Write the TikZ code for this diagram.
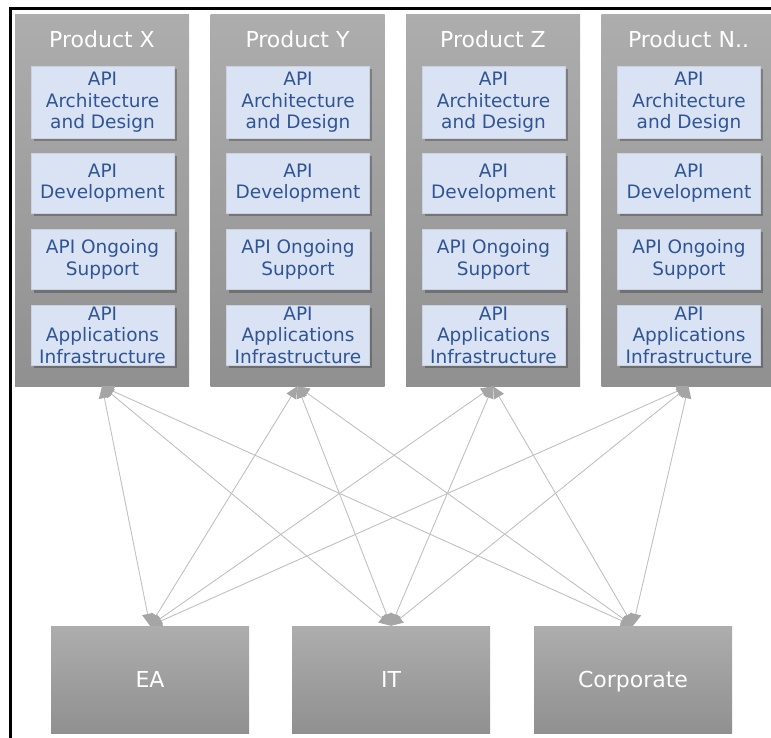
\documentclass[tikz,border=0pt]{standalone}
\usepackage{fontspec}
\setmainfont{DejaVu Sans}
\usetikzlibrary{arrows.meta,shadows}

\definecolor{colTop}{RGB}{173,173,173}
\definecolor{colBot}{RGB}{144,144,144}
\definecolor{taskFill}{RGB}{218,227,243}
\definecolor{taskEdge}{RGB}{202,210,224}
\definecolor{taskText}{RGB}{47,85,151}
\definecolor{linkGray}{RGB}{192,192,192}
\definecolor{tipGray}{RGB}{165,165,165}

\tikzset{
  column/.style={rectangle, top color=colTop, bottom color=colBot, draw=none,
    minimum width=174pt, minimum height=371pt, inner sep=0pt},
  coltitle/.style={anchor=base, text=white, font=\fontsize{22}{26}\selectfont},
  task/.style={rectangle, fill=taskFill, draw=taskEdge, line width=0.8pt,
    text=taskText, align=center,
    minimum width=143pt, minimum height=60pt, inner sep=0pt,
    font=\fontsize{18.5}{21.5}\selectfont,
    drop shadow={shadow xshift=2.5pt, shadow yshift=-3pt, fill=black, opacity=0.25}},
  unit/.style={rectangle, top color=colTop, bottom color=colBot, draw=none,
    text=white, minimum width=198pt, minimum height=107pt, inner sep=0pt,
    text height=17pt, text depth=2pt,
    font=\fontsize{22}{26}\selectfont},
  link/.style={draw=linkGray, line width=0.9pt,
    >={Triangle[length=12pt,width=11pt,color=tipGray]}, <->}
}

\begin{document}
\begin{tikzpicture}[x=1pt,y=-1pt]
  \useasboundingbox (0,0) rectangle (771,738);
  % frame
  \draw[line width=3pt] (10.5,760) -- (10.5,8.5) -- (790,8.5);
  % Panel 1: Product X
  \begin{scope}
    \node[column] (prodX) at (102,200.5) {};
    \node[coltitle] (titleX) at (102,48) {Product X};
    \node[task, minimum height=72pt] (archX) at (102.5,102.5) {API\\Architecture\\and Design};
    \node[task] (devX) at (102.5,183) {API\\Development};
    \node[task] (suppX) at (102.5,259.5) {API Ongoing\\Support};
    \node[task] (infraX) at (102.5,335) {API\\Applications\\Infrastructure};
  \end{scope}
  % Panel 2: Product Y
  \begin{scope}[shift={(195.5,0)}]
    \node[column] (prodY) at (102,200.5) {};
    \node[coltitle] (titleY) at (102,48) {Product Y};
    \node[task, minimum height=72pt] (archY) at (102.5,102.5) {API\\Architecture\\and Design};
    \node[task] (devY) at (102.5,183) {API\\Development};
    \node[task] (suppY) at (102.5,259.5) {API Ongoing\\Support};
    \node[task] (infraY) at (102.5,335) {API\\Applications\\Infrastructure};
  \end{scope}
  % Panel 3: Product Z
  \begin{scope}[shift={(391,0)}]
    \node[column] (prodZ) at (102,200.5) {};
    \node[coltitle] (titleZ) at (102,48) {Product Z};
    \node[task, minimum height=72pt] (archZ) at (102.5,102.5) {API\\Architecture\\and Design};
    \node[task] (devZ) at (102.5,183) {API\\Development};
    \node[task] (suppZ) at (102.5,259.5) {API Ongoing\\Support};
    \node[task] (infraZ) at (102.5,335) {API\\Applications\\Infrastructure};
  \end{scope}
  % Panel 4: Product N..
  \begin{scope}[shift={(586.5,0)}]
    \node[column] (prodN) at (102,200.5) {};
    \node[coltitle] (titleN) at (102,48) {Product N..};
    \node[task, minimum height=72pt] (archN) at (102.5,102.5) {API\\Architecture\\and Design};
    \node[task] (devN) at (102.5,183) {API\\Development};
    \node[task] (suppN) at (102.5,259.5) {API Ongoing\\Support};
    \node[task] (infraN) at (102.5,335) {API\\Applications\\Infrastructure};
  \end{scope}
  % Bottom row
  \node[unit] (ea) at (150,679.5) {EA};
  \node[unit] (it) at (391,679.5) {IT};
  \node[unit] (corp) at (633,679.5) {Corporate};
  % Links
  \draw[link] (prodX.south) -- (ea.north);
  \draw[link] (prodX.south) -- (it.north);
  \draw[link] (prodX.south) -- (corp.north);
  \draw[link] (prodY.south) -- (ea.north);
  \draw[link] (prodY.south) -- (it.north);
  \draw[link] (prodY.south) -- (corp.north);
  \draw[link] (prodZ.south) -- (ea.north);
  \draw[link] (prodZ.south) -- (it.north);
  \draw[link] (prodZ.south) -- (corp.north);
  \draw[link] (prodN.south) -- (ea.north);
  \draw[link] (prodN.south) -- (it.north);
  \draw[link] (prodN.south) -- (corp.north);
\end{tikzpicture}
\end{document}
